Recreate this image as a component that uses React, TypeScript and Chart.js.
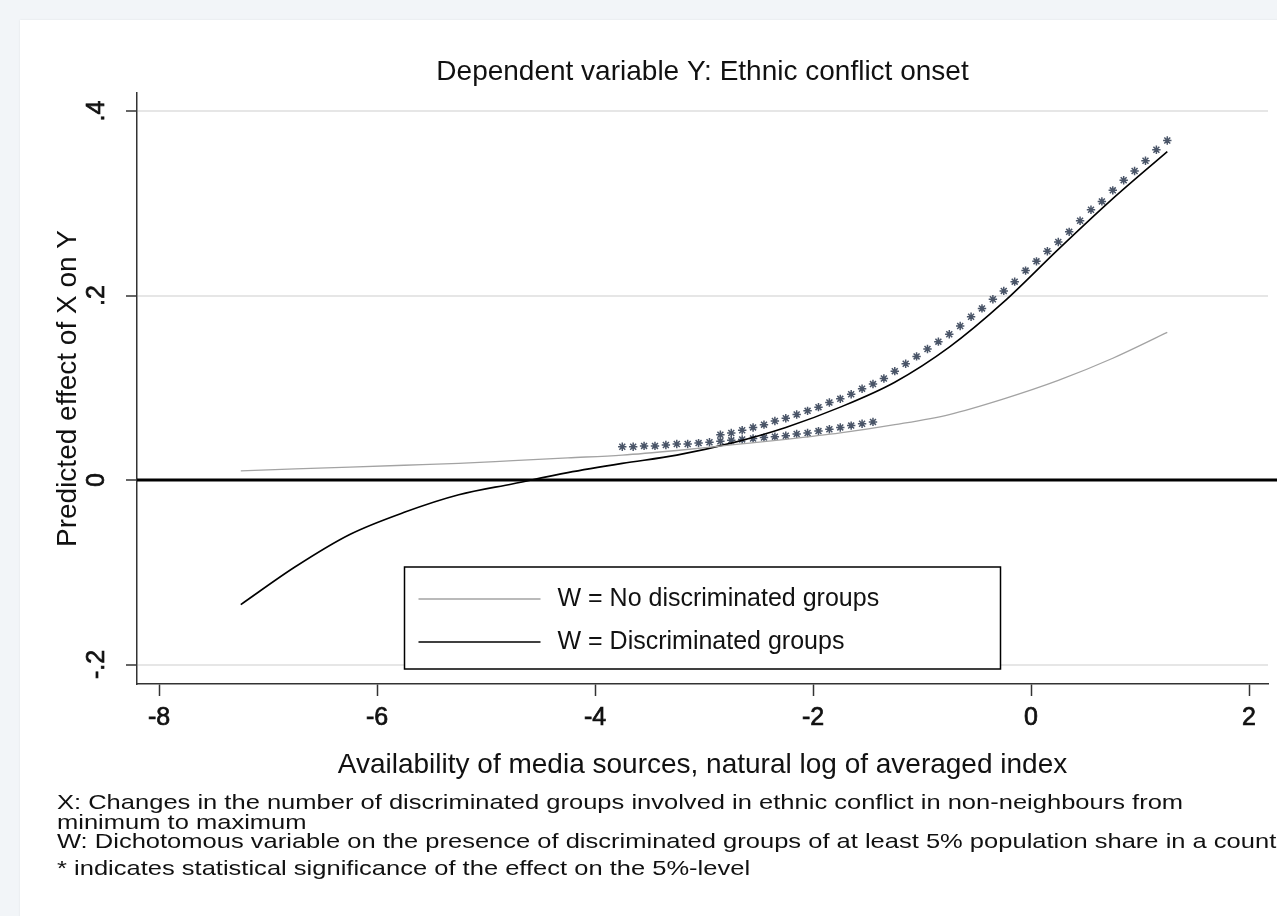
import React, { useEffect, useRef } from "react";
import { Chart, registerables } from "chart.js";

Chart.register(...registerables);

// ---- Data ----
const curveX = [-7.25, -6.75, -6.25, -5.75, -5.25, -4.75, -4.25, -3.75, -3.25, -2.75, -2.25, -1.75, -1.25, -0.75, -0.25, 0.25, 0.75, 1.25];
const noDiscY = [0.010, 0.012, 0.014, 0.016, 0.018, 0.021, 0.024, 0.027, 0.032, 0.038, 0.044, 0.051, 0.060, 0.071, 0.088, 0.108, 0.132, 0.160];
const discY = [-0.135, -0.094, -0.059, -0.035, -0.016, -0.004, 0.008, 0.018, 0.027, 0.040, 0.057, 0.079, 0.106, 0.144, 0.193, 0.250, 0.305, 0.356];

const sigNoX = [-3.75, -3.65, -3.55, -3.45, -3.35, -3.25, -3.15, -3.05, -2.95, -2.85, -2.75, -2.65, -2.55, -2.45, -2.35, -2.25, -2.15, -2.05, -1.95, -1.85, -1.75, -1.65, -1.55, -1.45];
const sigNoY = [0.036, 0.036, 0.037, 0.037, 0.038, 0.039, 0.039, 0.040, 0.041, 0.042, 0.043, 0.044, 0.045, 0.046, 0.047, 0.048, 0.050, 0.051, 0.053, 0.055, 0.057, 0.059, 0.061, 0.063];

const sigDiscX = [-2.85, -2.75, -2.65, -2.55, -2.45, -2.35, -2.25, -2.15, -2.05, -1.95, -1.85, -1.75, -1.65, -1.55, -1.45, -1.35, -1.25, -1.15, -1.05, -0.95, -0.85, -0.75, -0.65, -0.55, -0.45, -0.35, -0.25, -0.15, -0.05, 0.05, 0.15, 0.25, 0.35, 0.45, 0.55, 0.65, 0.75, 0.85, 0.95, 1.05, 1.15, 1.25];
const sigDiscY = [0.049, 0.051, 0.054, 0.057, 0.060, 0.064, 0.067, 0.071, 0.075, 0.079, 0.084, 0.088, 0.093, 0.099, 0.104, 0.110, 0.118, 0.126, 0.134, 0.142, 0.150, 0.158, 0.167, 0.177, 0.186, 0.196, 0.205, 0.215, 0.227, 0.237, 0.248, 0.258, 0.269, 0.281, 0.293, 0.302, 0.314, 0.325, 0.335, 0.346, 0.358, 0.368];

const xTicks = [-8, -6, -4, -2, 0, 2];
const xTickLabels = ["-8", "-6", "-4", "-2", "0", "2"];
const yTicks = [-0.2, 0, 0.2, 0.4];
const yTickLabels = ["-.2", "0", ".2", ".4"];

const titleText = "Dependent variable Y: Ethnic conflict onset";
const xTitle = "Availability of media sources, natural log of averaged index";
const yTitle = "Predicted effect of X on Y";
const legendLabels = ["W = No discriminated groups", "W = Discriminated groups"];
const noteLines = [
  "X: Changes in the number of discriminated groups involved in ethnic conflict in non-neighbours from",
  "minimum to maximum",
  "W: Dichotomous variable on the presence of discriminated groups of at least 5% population share in a country",
  "* indicates statistical significance of the effect on the 5%-level",
];

const FONT = '"Liberation Sans", Arial, Helvetica, sans-serif';
const GRAY_LINE = "#a3a3a3";
const STAR_COLOR = "#4a5568";

function pts(xs: number[], ys: number[]) {
  return xs.map((x, i) => ({ x, y: ys[i] }));
}

export default function App() {
  const ref = useRef<HTMLCanvasElement>(null);

  useEffect(() => {
    const canvas = ref.current;
    if (!canvas) return;

    const heavyText = (ctx: CanvasRenderingContext2D, t: string, x: number, y: number) => {
      ctx.fillText(t, x, y);
      ctx.strokeText(t, x, y);
    };

    const decor = {
      id: "stataDecor",
      beforeDatasetsDraw(chart: any) {
        const { ctx, chartArea, scales } = chart;
        const y0 = scales.y.getPixelForValue(0);
        ctx.save();
        ctx.strokeStyle = "#000";
        ctx.lineWidth = 3;
        ctx.beginPath();
        ctx.moveTo(chartArea.left, y0);
        ctx.lineTo(chart.width, y0);
        ctx.stroke();
        ctx.restore();
      },
      afterDraw(chart: any) {
        const { ctx, chartArea: ca, scales } = chart;
        const cx = (ca.left + ca.right) / 2;
        ctx.save();
        ctx.fillStyle = "#111";
        ctx.textBaseline = "middle";

        // title
        ctx.font = `28px ${FONT}`;
        ctx.textAlign = "center";
        ctx.fillText(titleText, cx, ca.top - 21);

        // x tick labels (slightly heavy, as in the reference)
        ctx.font = `25px ${FONT}`;
        ctx.strokeStyle = "#111";
        ctx.lineWidth = 0.7;
        xTicks.forEach((v, i) => {
          heavyText(ctx, xTickLabels[i], scales.x.getPixelForValue(v), ca.bottom + 34);
        });

        // y tick labels (rotated)
        yTicks.forEach((v, i) => {
          const y = scales.y.getPixelForValue(v);
          ctx.save();
          ctx.translate(ca.left - 40, y);
          ctx.rotate(-Math.PI / 2);
          ctx.textAlign = "center";
          heavyText(ctx, yTickLabels[i], 0, 0);
          ctx.restore();
        });

        // axis titles
        ctx.font = `28px ${FONT}`;
        ctx.textAlign = "center";
        ctx.fillText(xTitle, cx, ca.bottom + 81);
        ctx.save();
        ctx.translate(ca.left - 69, (ca.top + ca.bottom) / 2);
        ctx.rotate(-Math.PI / 2);
        ctx.fillText(yTitle, 0, 0);
        ctx.restore();

        // notes (wide lettering, as in the reference)
        ctx.font = `21px ${FONT}`;
        ctx.textAlign = "left";
        const noteY = [119, 139, 158, 185];
        noteLines.forEach((t, i) => {
          ctx.save();
          ctx.translate(57, ca.bottom + noteY[i]);
          ctx.scale(1.215, 1);
          ctx.fillText(t, 0, 0);
          ctx.restore();
        });

        // legend
        const lw = 596;
        const lh = 102;
        const lx = cx - lw / 2;
        const ly = ca.bottom - 15 - lh;
        ctx.fillStyle = "#fff";
        ctx.fillRect(lx, ly, lw, lh);
        ctx.strokeStyle = "#000";
        ctx.lineWidth = 1.5;
        ctx.strokeRect(lx, ly, lw, lh);
        const rows = [ly + 32, ly + 75];
        const cols = [GRAY_LINE, "#000"];
        const widths = [1.3, 1.6];
        rows.forEach((ry, i) => {
          ctx.strokeStyle = cols[i];
          ctx.lineWidth = widths[i];
          ctx.beginPath();
          ctx.moveTo(lx + 14, ry);
          ctx.lineTo(lx + 136, ry);
          ctx.stroke();
          ctx.fillStyle = "#111";
          ctx.font = `25px ${FONT}`;
          ctx.textAlign = "left";
          ctx.fillText(legendLabels[i], lx + 153, ry);
        });
        ctx.restore();
      },
    };

    const chart = new Chart(canvas, {
      type: "scatter",
      data: {
        datasets: [
          {
            label: legendLabels[0],
            data: pts(curveX, noDiscY),
            showLine: true,
            borderColor: GRAY_LINE,
            borderWidth: 1.3,
            pointRadius: 0,
            cubicInterpolationMode: "monotone",
          },
          {
            label: legendLabels[1],
            data: pts(curveX, discY),
            showLine: true,
            borderColor: "#000",
            borderWidth: 1.6,
            pointRadius: 0,
            cubicInterpolationMode: "monotone",
          },
          {
            label: "sig no",
            data: pts(sigNoX, sigNoY),
            showLine: false,
            pointStyle: "star",
            pointRadius: 4.2,
            borderColor: STAR_COLOR,
            backgroundColor: STAR_COLOR,
            borderWidth: 1.5,
          },
          {
            label: "sig disc",
            data: pts(sigDiscX, sigDiscY),
            showLine: false,
            pointStyle: "star",
            pointRadius: 4.2,
            borderColor: STAR_COLOR,
            backgroundColor: STAR_COLOR,
            borderWidth: 1.5,
          },
        ],
      },
      options: {
        animation: false,
        responsive: false,
        devicePixelRatio: 1,
        layout: { padding: { left: 117, right: 9, top: 93, bottom: 212 } },
        plugins: {
          legend: { display: false },
          title: { display: false },
          tooltip: { enabled: false },
        },
        scales: {
          x: {
            type: "linear",
            min: -8.202,
            max: 2.174,
            afterBuildTicks: (s: any) => {
              s.ticks = xTicks.map((v) => ({ value: v }));
            },
            afterFit: (s: any) => {
              s.height = 20;
            },
            ticks: { display: false },
            grid: {
              drawOnChartArea: false,
              drawTicks: true,
              tickLength: 12,
              tickColor: "#333",
              tickWidth: 1.5,
            },
            border: { display: true, color: "#333", width: 1.5 },
          },
          y: {
            type: "linear",
            min: -0.2211,
            max: 0.4195,
            afterBuildTicks: (s: any) => {
              s.ticks = yTicks.map((v) => ({ value: v }));
            },
            afterFit: (s: any) => {
              s.width = 20;
            },
            ticks: { display: false },
            grid: {
              drawOnChartArea: true,
              color: (c: any) => (c.tick && c.tick.value === 0 ? "rgba(0,0,0,0)" : "#e6e6e6"),
              lineWidth: 2,
              drawTicks: true,
              tickLength: 11,
              tickColor: "#333",
              tickWidth: 1.5,
            },
            border: { display: true, color: "#333", width: 1.5 },
          },
        },
      },
      plugins: [decor],
    } as any);

    return () => {
      chart.destroy();
    };
  }, []);

  return (
    <div
      style={{
        position: "fixed",
        left: 0,
        top: 0,
        width: 1277,
        height: 916,
        overflow: "hidden",
        background: "#f2f5f8",
      }}
    >
      <div
        style={{
          position: "absolute",
          left: 20,
          top: 20,
          width: 1300,
          height: 920,
          background: "#fff",
          boxShadow: "0 0 2px rgba(0,0,0,0.08)",
        }}
      />
      <canvas
        ref={ref}
        width={1277}
        height={916}
        style={{ position: "absolute", left: 0, top: 0, display: "block" }}
      />
    </div>
  );
}
